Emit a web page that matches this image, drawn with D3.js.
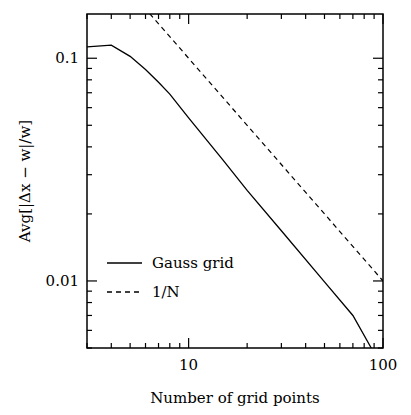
<!DOCTYPE html>
<html><head><meta charset="utf-8">
<script src="https://cdn.jsdelivr.net/npm/d3@7"></script>
<style>body{margin:0;background:#fff}text{font-family:"DejaVu Serif",serif;fill:#000}</style>
</head><body>
<svg id="c" width="411" height="415"></svg>
<script>
const gaussN = [3, 4, 5, 6, 7, 8, 10, 15, 20, 30, 50, 70, 87];
const gaussErr = [0.1125, 0.1145, 0.102, 0.089, 0.078, 0.069, 0.054, 0.035, 0.0255, 0.0168, 0.0099, 0.0070, 0.005];
const refN = [6.3, 100];
const xTicks = [10, 100];
const yTicks = [0.01, 0.1];

const svg = d3.select('#c');
const pLeft = 87, pRight = 383, pTop = 14, pBottom = 348;
const x = d3.scaleLog().domain([3, 100]).range([pLeft, pRight]);
const y = d3.scaleLog().domain([0.005, 0.158]).range([pBottom, pTop]);

const minorX = [];
for (let d = 1; d <= 10; d *= 10) for (let k = 1; k <= 9; k++) { const v = k * d; if (v >= 3 && v <= 100) minorX.push(v); }
minorX.push(100);
const minorY = [];
for (let d = 0.001; d <= 0.1; d *= 10) for (let k = 1; k <= 9; k++) { const v = +(k * d).toPrecision(3); if (v >= 0.005 && v <= 0.158) minorY.push(v); }
const isMajor = v => Math.abs(Math.log10(v) - Math.round(Math.log10(v))) < 1e-6;

const g = svg.append('g').attr('stroke', '#000').attr('stroke-width', 1.2);
minorX.forEach(v => {
  const L = isMajor(v) ? 10 : 5;
  g.append('line').attr('x1', x(v)).attr('x2', x(v)).attr('y1', pBottom).attr('y2', pBottom - L);
  g.append('line').attr('x1', x(v)).attr('x2', x(v)).attr('y1', pTop).attr('y2', pTop + L);
});
minorY.forEach(v => {
  const L = isMajor(v) ? 10 : 5;
  g.append('line').attr('y1', y(v)).attr('y2', y(v)).attr('x1', pLeft).attr('x2', pLeft + L);
  g.append('line').attr('y1', y(v)).attr('y2', y(v)).attr('x1', pRight).attr('x2', pRight - L);
});
svg.append('rect').attr('x', pLeft).attr('y', pTop).attr('width', pRight - pLeft).attr('height', pBottom - pTop)
  .attr('fill', 'none').attr('stroke', '#000').attr('stroke-width', 1.5);

xTicks.forEach(v => svg.append('text').attr('x', x(v)).attr('y', pBottom + 22).attr('text-anchor', 'middle').attr('font-size', 15).text(v));
yTicks.forEach(v => svg.append('text').attr('x', pLeft - 8).attr('y', y(v) + 5).attr('text-anchor', 'end').attr('font-size', 15).text(v));

svg.append('text').attr('x', (pLeft + pRight) / 2).attr('y', 403).attr('text-anchor', 'middle').attr('font-size', 15).text('Number of grid points');
svg.append('text').attr('transform', `translate(30,${(pTop + pBottom) / 2}) rotate(-90)`).attr('text-anchor', 'middle').attr('font-size', 15).text('Avg[|Δx − w|/w]');

svg.append('clipPath').attr('id', 'pc').append('rect').attr('x', pLeft).attr('y', pTop).attr('width', pRight - pLeft).attr('height', pBottom - pTop);
const line = d3.line().x(d => x(d[0])).y(d => y(d[1]));
const plot = svg.append('g').attr('clip-path', 'url(#pc)');
plot.append('path').attr('d', line(gaussN.map((n, i) => [n, gaussErr[i]]))).attr('fill', 'none').attr('stroke', '#000').attr('stroke-width', 1.3);
plot.append('path').attr('d', line(refN.map(n => [n, 1 / n]))).attr('fill', 'none').attr('stroke', '#000').attr('stroke-width', 1.2).attr('stroke-dasharray', '5,4');

const legend = [['Gauss grid', null, 263], ['1/N', '5,4', 292]];
legend.forEach(([t, dash, ly]) => {
  svg.append('line').attr('x1', 107).attr('x2', 142).attr('y1', ly).attr('y2', ly).attr('stroke', '#000').attr('stroke-width', 1.3).attr('stroke-dasharray', dash);
  svg.append('text').attr('x', 152).attr('y', ly + 5).attr('font-size', 15).text(t);
});
</script>
</body></html>
